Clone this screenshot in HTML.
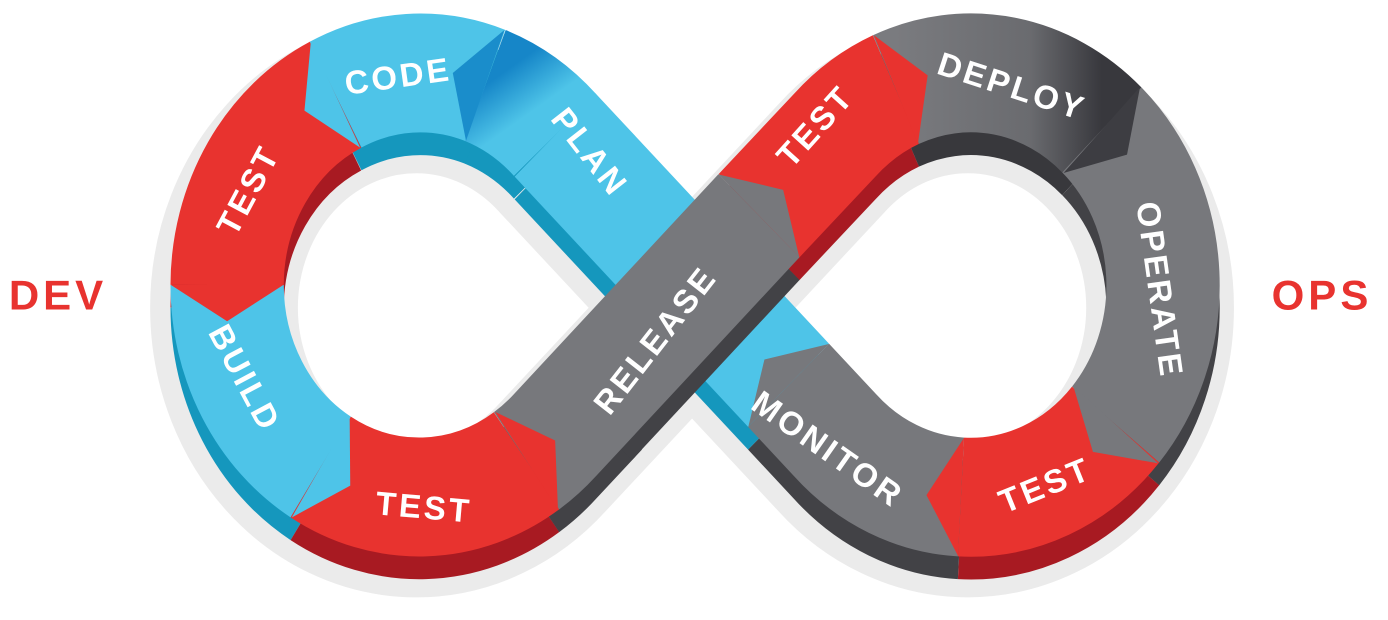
<!DOCTYPE html>
<html><head><meta charset="utf-8"><style>
html,body{margin:0;padding:0;background:#fff}
svg{display:block}
.t{font-family:"Liberation Sans",Arial,sans-serif;font-weight:bold;fill:#fff;font-size:33px;letter-spacing:3px;text-anchor:middle;dominant-baseline:central}
</style></head><body>
<svg width="1388" height="620" viewBox="0 0 1388 620" xmlns="http://www.w3.org/2000/svg">
<defs>
<linearGradient id="pg" x1="0" y1="0" x2="1" y2="1"><stop offset="0" stop-color="#1686c8"/><stop offset="0.6" stop-color="#4ec4e8"/></linearGradient>
<linearGradient id="dg" x1="0" y1="0" x2="1" y2="0"><stop offset="0" stop-color="#7a7b7f"/><stop offset="0.65" stop-color="#6a6b6f"/><stop offset="1" stop-color="#38383d"/></linearGradient>
</defs>
<g transform="translate(695,285) scale(0.985,1.034) translate(-695,-282)">
<g fill="none" stroke-linejoin="round">
<path d="M553,137 A195,205 0 1 0 553,427 L837,137 A195,205 0 1 1 837,427 Z" stroke="#ebebeb" stroke-width="150" transform="translate(-3,22)"/>
<g transform="translate(0,22)" stroke-width="115">
<path d="M790,379 L553,137" stroke="#1597bd"/>
<path d="M553,137 A195,205 0 0 0 482,89" stroke="#1597bd"/>
<path d="M482,89 A195,205 0 0 0 330,98" stroke="#1597bd"/>
<path d="M330,98 A195,205 0 0 0 220,282" stroke="#a81a22"/>
<path d="M220,282 A195,205 0 0 0 315,458" stroke="#1597bd"/>
<path d="M315,458 A195,205 0 0 0 524,452" stroke="#a81a22"/>
<path d="M524,452 A195,205 0 0 0 553,427 L600,379" stroke="#424246"/>
<path d="M760,215 L837,137 A195,205 0 0 1 899,93" stroke="#a81a22"/>
<path d="M899,93 A195,205 0 0 1 1108,132" stroke="#38383c"/>
<path d="M1108,132 A195,205 0 0 1 1122,417" stroke="#424246"/>
<path d="M1122,417 A195,205 0 0 1 965,487" stroke="#a81a22"/>
<path d="M965,487 A195,205 0 0 1 837,427 L790,379" stroke="#424246"/>
</g>
<g stroke-width="115">
<path d="M790,379 L553,137" stroke="#4ec4e8"/>
<path d="M553,137 A195,205 0 0 0 482,89" stroke="url(#pg)"/>
<path d="M482,89 A195,205 0 0 0 330,98" stroke="#4ec4e8"/>
<path d="M330,98 A195,205 0 0 0 220,282" stroke="#e8332f"/>
<path d="M220,282 A195,205 0 0 0 315,458" stroke="#4ec4e8"/>
<path d="M315,458 A195,205 0 0 0 524,452" stroke="#e8332f"/>
<path d="M760,215 L837,137 A195,205 0 0 1 899,93" stroke="#e8332f"/>
<path d="M899,93 A195,205 0 0 1 1108,132" stroke="url(#dg)"/>
<path d="M1108,132 A195,205 0 0 1 1122,417" stroke="#77787c"/>
<path d="M1122,417 A195,205 0 0 1 965,487" stroke="#e8332f"/>
<path d="M965,487 A195,205 0 0 1 837,427 L790,379" stroke="#77787c"/>
</g>
</g>
<polygon points="830.8,339.1 765.5,354 749.2,418.9" fill="#77787c"/>
<polygon points="501.5,35.4 449.1,77 462.5,142.6" fill="#1a8dcb"/>
<polygon points="305,46.8 298.5,113.3 355,149.2" fill="#4ec4e8"/>
<polygon points="163,282 220,317 277,282" fill="#e8332f"/>
<polygon points="285.6,506.8 345,476 344.4,409.2" fill="#4ec4e8"/>
<polygon points="876.7,40.5 931.2,79.3 921.3,145.5" fill="#e8332f"/>
<polygon points="1146.9,90.3 1133.6,155.9 1069.1,173.7" fill="#3d3d42"/>
<polygon points="1165,454.4 1099,443.4 1079,379.6" fill="#77787c"/>
<polygon points="962,544 930,485.2 968,430" fill="#e8332f"/>
<g fill="none" stroke-linejoin="round" stroke-width="115">
<path d="M590,389 L760,215" stroke="#424246" transform="translate(0,22)"/>
<path d="M524,452 A195,205 0 0 0 553,427 L760,215" stroke="#77787c"/>
</g>
<polygon points="555.9,499.3 553,432.4 492.1,404.7" fill="#e8332f"/>
<polygon points="800.8,254.9 784.5,190 719.2,175.1" fill="#77787c"/>
</g>
<text class="t" transform="translate(398,76) rotate(-8)">CODE</text>
<text class="t" transform="translate(590,152) rotate(52)">PLAN</text>
<text class="t" transform="translate(248,190) rotate(-62)">TEST</text>
<text class="t" transform="translate(245,378) rotate(62)">BUILD</text>
<text class="t" transform="translate(424,507) rotate(5)">TEST</text>
<text class="t" transform="translate(655,340) rotate(-52)">RELEASE</text>
<text class="t" transform="translate(815,126) rotate(-48)">TEST</text>
<text class="t" transform="translate(1012,86) rotate(18)">DEPLOY</text>
<text class="t" transform="translate(1160,290) rotate(82)">OPERATE</text>
<text class="t" transform="translate(1045,485) rotate(-22)">TEST</text>
<text class="t" transform="translate(828,449) rotate(35)">MONITOR</text>
<text x="58" y="295" text-anchor="middle" dominant-baseline="central" font-family="Liberation Sans, Arial, sans-serif" font-weight="bold" font-size="42" letter-spacing="4" fill="#e8332f">DEV</text>
<text x="1322" y="295" text-anchor="middle" dominant-baseline="central" font-family="Liberation Sans, Arial, sans-serif" font-weight="bold" font-size="42" letter-spacing="4" fill="#e8332f">OPS</text>
</svg>
</body></html>
